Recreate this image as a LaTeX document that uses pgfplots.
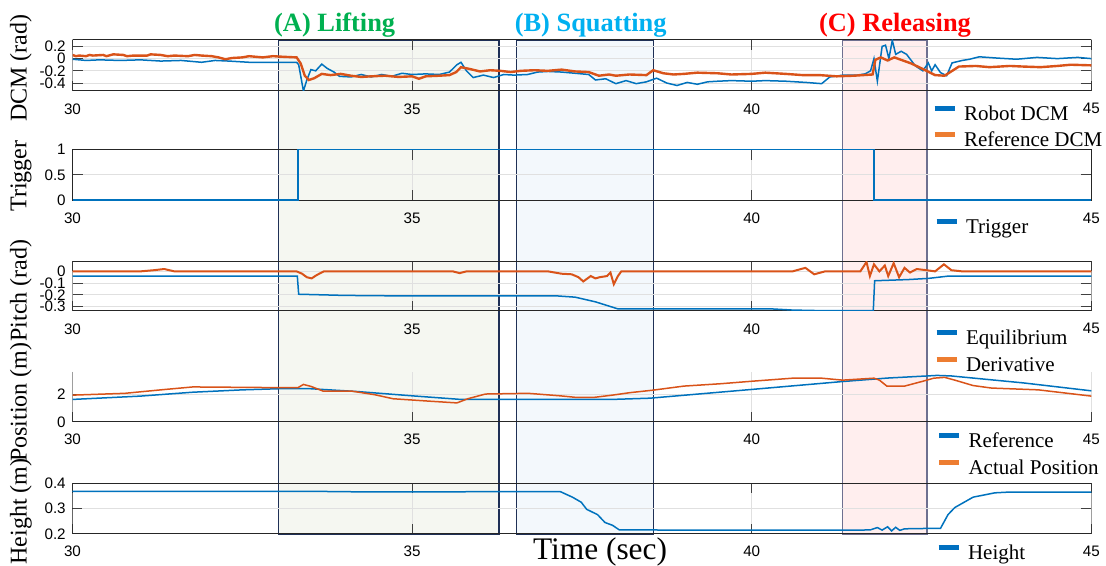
\documentclass[border=0pt]{standalone}
\usepackage{fontspec}
\setmainfont{Liberation Serif}
\setsansfont{Liberation Sans}
\usepackage{pgfplots}
\pgfplotsset{compat=1.18}
\definecolor{mblue}{HTML}{0072BD}
\definecolor{morange}{HTML}{D95319}
\definecolor{lblue}{HTML}{0070C0}
\definecolor{lorange}{HTML}{ED7D31}
\definecolor{fillA}{HTML}{F5F7F1}
\definecolor{fillB}{HTML}{F3F8FC}
\definecolor{fillC}{HTML}{FFEEEE}
\definecolor{edgeAB}{HTML}{1F3056}
\definecolor{edgeC}{HTML}{6E7090}
\definecolor{tgreen}{HTML}{00B050}
\definecolor{tcyan}{HTML}{00B0F0}
\definecolor{tred}{HTML}{FF0000}
\tikzset{boxline/.style={black!85, line width=0.5pt}}
\pgfplotsset{
  panel/.style={
    scale only axis, width=509.4pt, xmin=30, xmax=45, xtick={30,35,40,45},
    grid=major, major grid style={black!12, line width=0.5pt},
    tick align=inside, major tick length=5pt,
    axis line style={draw=none},
    tick style={black!75, line width=0.5pt},
    ticklabel style={font=\sffamily\fontsize{7.6}{8}\selectfont},
    /pgf/number format/assume math mode=true,
    xticklabel style={inner sep=0pt, anchor=north, yshift=-6pt},
    yticklabel style={inner sep=0pt, anchor=east, xshift=-3.2pt},
    label style={font=\fontsize{12}{14}\selectfont},
    legend style={draw=none, fill=none, inner sep=0pt, outer sep=0pt, anchor=north west,
      font=\fontsize{10.5}{12}\selectfont, row sep=4pt,
      /tikz/every odd column/.style={column sep=3.5pt},
      nodes={inner sep=0pt, text height=7pt, text depth=2pt}},
    legend cell align=left,
    legend image code/.code={\draw[#1, line width=2.5pt] (0pt,3.5pt) -- (10pt,3.5pt);},
  },
}
\begin{document}
\begin{tikzpicture}
\useasboundingbox (0,0) rectangle (553pt,-283pt);
% shaded phases
\begin{axis}[at={(36.25pt,-20pt)}, anchor=north west, scale only axis, width=509.4pt, height=246.95pt,
  xmin=30, xmax=45, ymin=0, ymax=1, hide axis, clip=false]
  \fill[fillA] (axis cs:33.03,0) rectangle (axis cs:36.28,1);
  \fill[fillB] (axis cs:36.54,0) rectangle (axis cs:38.55,1);
  \fill[fillC] (axis cs:41.34,0) rectangle (axis cs:42.58,1);
  \draw[edgeAB, line width=0.6pt] (axis cs:33.03,0) rectangle (axis cs:36.28,1);
  \draw[edgeAB, line width=0.6pt] (axis cs:36.54,0) rectangle (axis cs:38.55,1);
  \draw[edgeC, line width=0.6pt] (axis cs:41.34,0) rectangle (axis cs:42.58,1);
  \node[anchor=base, text=tgreen, font=\bfseries\fontsize{13.2}{15}\selectfont, yshift=4pt] at (axis cs:33.86,1) {(A) Lifting};
  \node[anchor=base, text=tcyan, font=\bfseries\fontsize{13.2}{15}\selectfont, yshift=4pt] at (axis cs:37.63,1) {(B) Squatting};
  \node[anchor=base, text=tred, font=\bfseries\fontsize{13.2}{15}\selectfont, yshift=4pt] at (axis cs:42.11,1) {(C) Releasing};
\end{axis}
% Panel 1: DCM
\begin{axis}[panel, at={(36.25pt,-20pt)}, anchor=north west, height=25.5pt,
  ymin=-0.53, ymax=0.305, ytick={-0.4,-0.2,0,0.2},
  ylabel={DCM (rad)}, ylabel style={at={(axis description cs:-0.0506,0.45)}, anchor=center},
  legend style={at={(axis description cs:0.8437,-0.294)}}]
\draw[boxline] (rel axis cs:0,0) rectangle (rel axis cs:1,1);
\addplot[mblue, line width=0.75pt, forget plot] coordinates {
(30.00,-0.01) (30.20,-0.03) (30.40,-0.02) (30.70,-0.03) (31.00,-0.02) (31.30,-0.04) (31.60,-0.03)
(31.90,-0.06) (32.10,-0.03) (32.30,-0.04) (32.60,-0.06) (33.30,-0.06) (33.33,-0.10) (33.40,-0.53)
(33.45,-0.35) (33.51,-0.18) (33.58,-0.20) (33.67,-0.09) (33.75,-0.16) (33.85,-0.22) (33.93,-0.29)
(34.10,-0.30) (34.25,-0.26) (34.40,-0.30) (34.55,-0.26) (34.70,-0.29) (34.85,-0.24) (35.00,-0.26)
(35.20,-0.25) (35.40,-0.26) (35.55,-0.22) (35.66,-0.10) (35.72,-0.06) (35.80,-0.20) (35.90,-0.31)
(36.05,-0.27) (36.20,-0.31) (36.35,-0.26) (36.50,-0.27) (36.70,-0.26) (36.85,-0.22) (37.00,-0.21)
(37.20,-0.22) (37.40,-0.24) (37.60,-0.26) (37.70,-0.35) (37.85,-0.33) (38.00,-0.41) (38.15,-0.36)
(38.30,-0.41) (38.45,-0.38) (38.60,-0.32) (38.75,-0.40) (38.90,-0.44) (39.05,-0.39) (39.20,-0.42)
(39.35,-0.38) (39.50,-0.37) (39.70,-0.36) (40.00,-0.37) (40.20,-0.36) (40.50,-0.37) (40.80,-0.39)
(41.03,-0.41) (41.15,-0.30) (41.35,-0.27) (41.55,-0.27) (41.67,-0.25) (41.75,-0.20) (41.80,0.00)
(41.85,-0.37) (41.92,0.20) (41.97,0.22) (42.02,0.00) (42.07,0.30) (42.12,0.07) (42.20,0.12)
(42.28,0.07) (42.41,-0.12) (42.52,-0.20) (42.60,-0.07) (42.65,-0.20) (42.70,-0.10) (42.78,-0.23)
(42.87,-0.28) (42.95,-0.07) (43.10,-0.03) (43.21,-0.01) (43.35,0.03) (43.60,0.01) (43.90,-0.01)
(44.20,0.02) (44.50,0.00) (44.80,0.02) (45.00,0.00)};
\addplot[morange, line width=1.2pt, forget plot] coordinates {
(30.00,0.06) (30.05,0.04) (30.10,0.05) (30.20,0.04) (30.25,0.06) (30.30,0.05) (30.45,0.06) (30.50,0.04) (30.60,0.07) (30.75,0.06) (30.80,0.04) (30.90,0.05)
(31.10,0.05) (31.15,0.07) (31.30,0.06) (31.40,0.04) (31.50,0.05) (31.70,0.04) (31.80,0.06) (31.90,0.05) (32.05,0.04) (32.15,0.02) (32.25,-0.01)
(32.35,0.01) (32.50,0.02) (32.60,0.04) (32.80,0.02) (32.95,0.04) (33.10,0.03) (33.30,0.02) (33.36,-0.08) (33.42,-0.28) (33.48,-0.35)
(33.56,-0.32) (33.67,-0.25) (33.80,-0.27) (33.95,-0.25) (34.10,-0.28) (34.25,-0.30) (34.40,-0.29)
(34.60,-0.28) (34.80,-0.30) (35.00,-0.29) (35.10,-0.33) (35.20,-0.29) (35.40,-0.28) (35.55,-0.27)
(35.65,-0.22) (35.72,-0.14) (35.85,-0.17) (36.00,-0.21) (36.15,-0.19) (36.30,-0.20) (36.45,-0.22) (36.60,-0.20) (36.80,-0.19) (37.00,-0.20)
(37.20,-0.18) (37.40,-0.21) (37.60,-0.22) (37.75,-0.28) (37.90,-0.26) (38.00,-0.28) (38.20,-0.26) (38.45,-0.27) (38.55,-0.19) (38.70,-0.24)
(38.85,-0.26) (39.00,-0.25) (39.20,-0.23) (39.50,-0.24) (39.70,-0.26) (40.00,-0.25) (40.20,-0.23) (40.50,-0.25) (40.75,-0.27) (41.00,-0.27) (41.25,-0.29) (41.50,-0.28) (41.78,-0.26)
(41.82,-0.02) (41.90,0.02) (42.00,-0.03) (42.10,0.02) (42.20,-0.02) (42.35,-0.08) (42.52,-0.17)
(42.70,-0.27) (42.84,-0.28) (43.05,-0.13) (43.30,-0.12) (43.50,-0.14) (43.80,-0.12) (44.00,-0.13) (44.25,-0.14) (44.50,-0.12) (44.70,-0.10)
(45.00,-0.11)};
\addlegendimage{lblue}\addlegendentry{Robot DCM}
\addlegendimage{lorange}\addlegendentry{Reference DCM}
\end{axis}
% Panel 2: Trigger
\begin{axis}[panel, at={(36.25pt,-74.8pt)}, anchor=north west, height=25.4pt, clip=false,
  ymin=0, ymax=1, ytick={0,0.5,1},
  ylabel={Trigger}, ylabel style={at={(axis description cs:-0.0506,0.48)}, anchor=center},
  legend style={at={(axis description cs:0.8456,-0.36)}}]
\draw[boxline] (rel axis cs:0,0) rectangle (rel axis cs:1,1);
\addplot[mblue, line width=0.9pt, forget plot] coordinates {
(30,0) (33.32,0) (33.32,1) (41.80,1) (41.80,0) (45,0)};
\addlegendimage{lblue}\addlegendentry{Trigger}
\end{axis}
% Panel 3: Pitch
\begin{axis}[panel, at={(36.25pt,-130.7pt)}, anchor=north west, height=24.8pt,
  ymin=-0.338, ymax=0.085, ytick={-0.3,-0.2,-0.1,0},
  ylabel={Pitch (rad)}, ylabel style={at={(axis description cs:-0.0506,0.41)}, anchor=center},
  legend style={at={(axis description cs:0.8456,-0.393)}}]
\draw[boxline] (rel axis cs:0,0) rectangle (rel axis cs:1,1);
\addplot[mblue, line width=0.75pt, forget plot] coordinates {
(30,-0.04) (33.31,-0.04) (33.33,-0.195) (34,-0.205) (35,-0.21) (36,-0.21) (37.15,-0.21) (37.4,-0.22)
(37.7,-0.26) (38.03,-0.32) (39,-0.32) (40.29,-0.32) (40.6,-0.33) (41.03,-0.335) (41.79,-0.335)
(41.81,-0.08) (42.3,-0.07) (42.6,-0.06) (42.9,-0.04) (45,-0.04)};
\addplot[morange, line width=1pt, forget plot] coordinates {
(30.00,0.00) (30.50,0.00) (31.00,0.00) (31.20,0.01) (31.35,0.02) (31.50,0.00) (32.00,0.00) (32.50,0.00)
(33.30,0.00) (33.38,-0.02) (33.45,-0.05) (33.52,-0.06) (33.60,-0.03) (33.70,0.00) (34.00,0.00)
(34.50,0.00) (35.00,0.00) (35.60,0.00) (35.70,-0.015) (35.80,0.00) (36.50,0.00) (37.00,0.00)
(37.20,-0.02) (37.35,-0.025) (37.45,-0.05) (37.52,-0.086) (37.63,-0.04) (37.70,-0.06) (37.76,-0.05)
(37.87,-0.04) (37.92,-0.01) (37.97,-0.11) (38.03,-0.04) (38.08,0.00) (39.00,0.00) (40.00,0.00)
(40.60,0.00) (40.79,0.03) (40.92,-0.025) (41.08,0.00) (41.60,0.00) (41.69,0.08) (41.74,-0.04)
(41.80,0.06) (41.88,0.00) (41.96,0.05) (42.01,-0.04) (42.09,0.07) (42.17,-0.05) (42.25,0.03)
(42.33,-0.01) (42.43,0.02) (42.57,0.01) (42.70,0.00) (42.83,0.06) (42.94,0.01) (43.10,0.00)
(44.00,0.00) (45.00,0.00)};
\addlegendimage{lblue}\addlegendentry{Equilibrium}
\addlegendimage{lorange}\addlegendentry{Derivative}
\end{axis}
% Panel 4: Position
\begin{axis}[panel, at={(36.25pt,-185.9pt)}, anchor=north west, height=25pt, axis lines*=left,
  ymin=0, ymax=3.6, ytick={0,2},
  ylabel={Position (m)}, ylabel style={at={(axis description cs:-0.0506,0.39)}, anchor=center},
  legend style={at={(axis description cs:0.8481,-0.224)}}]
\draw[boxline] (rel axis cs:0,1) -- (rel axis cs:0,0) -- (rel axis cs:1,0);
\addplot[mblue, line width=0.75pt, forget plot] coordinates {
(30,1.61) (31.0,1.85) (31.77,2.13) (32.5,2.30) (33.03,2.38) (33.51,2.38) (34.19,2.18) (35,1.87)
(35.72,1.61) (37.0,1.61) (38.0,1.62) (38.5,1.70) (40.0,2.33) (41.34,2.90) (42.0,3.15) (42.73,3.34)
(42.94,3.30) (44.0,2.80) (45,2.23)};
\addplot[morange, line width=0.75pt, forget plot] coordinates {
(30,1.92) (30.77,2.05) (31.3,2.30) (31.77,2.51) (33.03,2.46) (33.32,2.46) (33.40,2.69) (33.51,2.55)
(33.69,2.21) (34.11,2.21) (34.45,1.95) (34.72,1.66) (35.24,1.49) (35.66,1.36) (35.82,1.66) (36.08,2.00)
(36.71,2.05) (37.18,1.87) (37.41,1.76) (37.68,1.76) (37.95,1.92) (38.21,2.10) (38.55,2.28) (39.0,2.57)
(39.54,2.74) (40.0,2.92) (40.6,3.14) (41.03,3.14) (41.34,3.00) (41.8,3.14) (41.88,3.00) (41.99,2.57)
(42.25,2.57) (42.52,2.92) (42.68,3.14) (42.84,3.20) (42.99,3.00) (43.26,2.61) (43.53,2.43) (44.22,2.30)
(45,1.85)};
\addlegendimage{lblue}\addlegendentry{Reference}
\addlegendimage{lorange}\addlegendentry{Actual Position}
\end{axis}
% Panel 5: Height
\begin{axis}[panel, at={(36.25pt,-241.6pt)}, anchor=north west, height=25.35pt,
  ymin=0.2, ymax=0.4, ytick={0.2,0.3,0.4},
  ylabel={Height (m)}, ylabel style={at={(axis description cs:-0.0506,0.44)}, anchor=center},
  xlabel={Time (sec)}, xlabel style={at={(axis description cs:0.5178,0)}, anchor=base, yshift=-13pt, font=\fontsize{15.7}{18}\selectfont},
  legend style={at={(axis description cs:0.8476,-0.219)}}]
\draw[boxline] (rel axis cs:0,0) rectangle (rel axis cs:1,1);
\addplot[mblue, line width=0.75pt, forget plot] coordinates {
(30,0.368) (33.5,0.368) (34.2,0.366) (35.5,0.366) (36.5,0.367) (37.18,0.367) (37.36,0.345) (37.49,0.325)
(37.57,0.297) (37.73,0.276) (37.84,0.245) (37.95,0.234) (38.05,0.216) (39.0,0.215) (40.0,0.215)
(41.0,0.215) (41.6,0.215) (41.75,0.216) (41.85,0.225) (41.92,0.215) (42.0,0.228) (42.06,0.212)
(42.12,0.226) (42.18,0.214) (42.25,0.220) (42.4,0.221) (42.78,0.222) (42.89,0.276) (42.99,0.304)
(43.26,0.345) (43.58,0.362) (43.79,0.365) (45,0.365)};
\addlegendimage{lblue}\addlegendentry{Height}
\end{axis}
\end{tikzpicture}
\end{document}
